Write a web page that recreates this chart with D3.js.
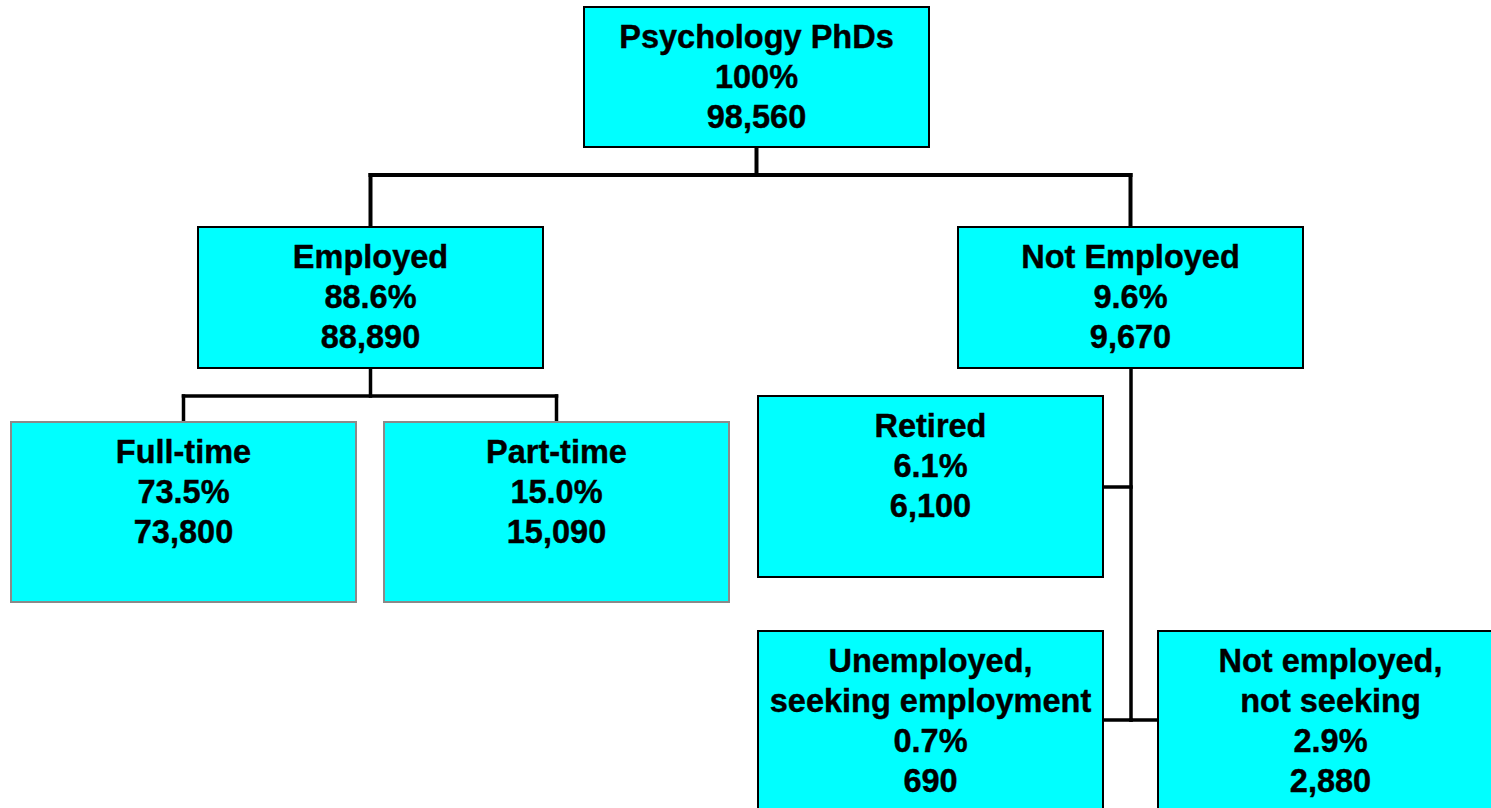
<!DOCTYPE html>
<html>
<head>
<meta charset="utf-8">
<script src="https://cdn.jsdelivr.net/npm/d3@7"></script>
<style>
  body { margin: 0; background: #fff; }
</style>
</head>
<body>
<div id="org_chart"></div>
<script>
// chart data
var ids      = ["root", "emp", "nemp", "ft", "pt", "ret", "unemp", "nseek"];
var parents  = [null, "root", "root", "emp", "emp", "nemp", "nemp", "nemp"];
var titles   = [["Psychology PhDs"], ["Employed"], ["Not Employed"], ["Full-time"], ["Part-time"],
                ["Retired"], ["Unemployed,", "seeking employment"], ["Not employed,", "not seeking"]];
var percents = ["100%", "88.6%", "9.6%", "73.5%", "15.0%", "6.1%", "0.7%", "2.9%"];
var counts   = [98560, 88890, 9670, 73800, 15090, 6100, 690, 2880];

// box layout (pixels) - kept apart from the data
var layout = {
  root:  { x: 584,  y: 7,   h: 140, edge: "#000" },
  emp:   { x: 198,  y: 227, h: 141, edge: "#000" },
  nemp:  { x: 958,  y: 227, h: 141, edge: "#000" },
  ft:    { x: 11,   y: 422, h: 180, edge: "#8a8a8a" },
  pt:    { x: 384,  y: 422, h: 180, edge: "#8a8a8a" },
  ret:   { x: 758,  y: 396, h: 181, edge: "#000" },
  unemp: { x: 758,  y: 631, h: 190, edge: "#000" },
  nseek: { x: 1158, y: 631, h: 190, edge: "#000" }
};
var boxW = 345;
var elbowDrop = 28;   // how far below a parent the cross bar sits
var trunkX = 1131;    // side trunk under "Not Employed"
var sideY = { ret: 487, unemp: 720, nseek: 720 };

var width = 1491, height = 808;
var fmt = d3.format(",");

var table = ids.map((id, i) => ({
  id: id, parent: parents[i], lines: titles[i].concat([percents[i], fmt(counts[i])])
}));

var root = d3.stratify().id(d => d.id).parentId(d => d.parent)(table);
root.each(n => {
  var l = layout[n.id];
  n.x0 = l.x; n.y0 = l.y; n.h = l.h; n.edge = l.edge;
  n.cx = l.x + boxW / 2;
});

var svg = d3.select("#org_chart")
  .append("svg")
  .attr("width", width)
  .attr("height", height);

// connectors
var links = svg.append("g")
  .attr("fill", "none")
  .attr("stroke", "#000")
  .attr("stroke-linecap", "square");

root.each(n => {
  if (!n.children) return;
  if (n.id === "nemp") {
    // trunk with side branches
    var bottom = d3.max(n.children, c => sideY[c.id]);
    links.append("path")
      .attr("stroke-width", 3.5)
      .attr("d", `M${trunkX},${n.y0 + n.h + 2}V${bottom}`);
    n.children.forEach(c => {
      var y = sideY[c.id];
      var xEdge = c.x0 > trunkX ? c.x0 - 2 : c.x0 + boxW + 2;
      links.append("path")
        .attr("stroke-width", 3.5)
        .attr("d", `M${trunkX},${y}H${xEdge}`);
    });
  } else {
    var top = n.y0 + n.h;
    var midY = top + elbowDrop;
    var sw = n.depth === 0 ? 4 : 3.5;
    var xs = n.children.map(c => c.cx);
    links.append("path")
      .attr("stroke-width", sw)
      .attr("d", `M${n.cx},${top + 2}V${midY}`);
    links.append("path")
      .attr("stroke-width", sw)
      .attr("d", `M${d3.min(xs)},${midY}H${d3.max(xs)}`);
    n.children.forEach(c => {
      links.append("path")
        .attr("stroke-width", sw)
        .attr("d", `M${c.cx},${midY}V${c.y0 - 2}`);
    });
  }
});

// boxes
var nodes = svg.append("g")
  .selectAll("g")
  .data(root.descendants())
  .enter()
  .append("g")
  .attr("transform", d => `translate(${d.x0},${d.y0})`);

nodes.append("rect")
  .attr("width", boxW)
  .attr("height", d => d.h)
  .attr("fill", "#00ffff")
  .attr("stroke", d => d.edge)
  .attr("stroke-width", 2);

nodes.append("text")
  .attr("text-anchor", "middle")
  .attr("font-family", "'Liberation Sans', Arial, sans-serif")
  .attr("font-weight", "bold")
  .attr("font-size", "32.5px")
  .attr("fill", "#000")
  .attr("stroke", "#000")
  .attr("stroke-width", 0.4)
  .selectAll("tspan")
  .data(d => d.data.lines)
  .enter()
  .append("tspan")
  .attr("x", boxW / 2)
  .attr("y", (d, i) => 41 + i * 40)
  .text(d => d);
</script>
</body>
</html>
